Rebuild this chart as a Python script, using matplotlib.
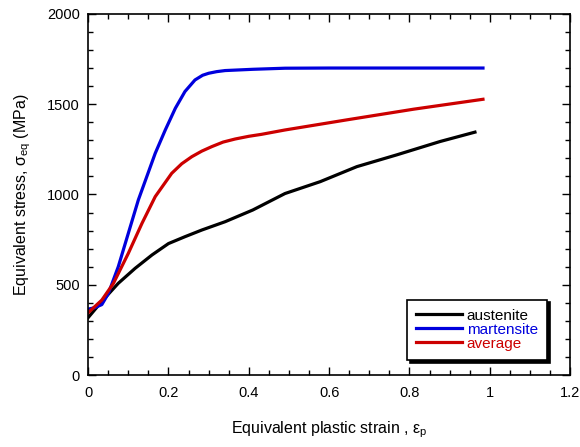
import matplotlib
matplotlib.use("Agg")
import matplotlib.pyplot as plt
from matplotlib.ticker import MultipleLocator

plt.rcParams["font.family"] = ["Liberation Sans", "DejaVu Sans"]
plt.rcParams["mathtext.fontset"] = "custom"
plt.rcParams["mathtext.rm"] = "Liberation Sans"
plt.rcParams["mathtext.it"] = "Liberation Sans"

# Austenite
aus_x = [0.0, 0.034, 0.075, 0.117, 0.159, 0.2, 0.241, 0.283, 0.341, 0.41, 0.49,
         0.578, 0.669, 0.768, 0.876, 0.963]
aus_y = [318, 408, 508, 591, 665, 728, 766, 803, 849, 914, 1005,
         1071, 1154, 1219, 1293, 1345]

# Martensite
mar_x = [0.0, 0.015, 0.034, 0.05, 0.075, 0.10, 0.125, 0.146, 0.167, 0.192, 0.217,
         0.241, 0.266, 0.285, 0.30, 0.32, 0.341, 0.41, 0.49, 0.6, 0.8, 0.983]
mar_y = [365, 372, 390, 450, 600, 785, 970, 1099, 1228, 1357, 1477,
         1570, 1634, 1660, 1671, 1680, 1686, 1693, 1699, 1700, 1700, 1700]

# Average
avg_x = [0.0, 0.034, 0.063, 0.10, 0.134, 0.167, 0.208, 0.233, 0.258, 0.283, 0.308,
         0.336, 0.366, 0.40, 0.432, 0.49, 0.644, 0.81, 0.983]
avg_y = [345, 415, 508, 674, 840, 988, 1117, 1170, 1209, 1240, 1265,
         1290, 1307, 1322, 1333, 1357, 1413, 1472, 1527]

fig = plt.figure(figsize=(5.8, 4.47), dpi=100, facecolor="white")
ax = fig.add_axes([0.152, 0.161, 0.831, 0.808])

ax.plot(aus_x, aus_y, color="black", linewidth=2.3, solid_joinstyle="round", label="austenite")
ax.plot(mar_x, mar_y, color="#0000dd", linewidth=2.3, solid_joinstyle="round", label="martensite")
ax.plot(avg_x, avg_y, color="#cc0000", linewidth=2.3, solid_joinstyle="round", label="average")

# Axes limits and ticks
ax.set_xlim(0, 1.2)
ax.set_ylim(0, 2000)
ax.xaxis.set_major_locator(MultipleLocator(0.2))
ax.xaxis.set_minor_locator(MultipleLocator(0.05))
ax.yaxis.set_major_locator(MultipleLocator(500))
ax.yaxis.set_minor_locator(MultipleLocator(100))
ax.set_xticks([0, 0.2, 0.4, 0.6, 0.8, 1, 1.2])
ax.set_xticklabels(["0", "0.2", "0.4", "0.6", "0.8", "1", "1.2"])
ax.tick_params(which="both", direction="in", top=True, right=True, labelsize=10.5)
ax.tick_params(axis="x", pad=8)
ax.tick_params(axis="y", pad=6)
ax.tick_params(which="major", length=6, width=1)
ax.tick_params(which="minor", length=3.5, width=1)
for s in ax.spines.values():
    s.set_linewidth(1.2)

ax.set_xlabel("Equivalent plastic strain , $\\varepsilon_{\\mathrm{p}}$", fontsize=11.5, labelpad=14)
ax.set_ylabel("Equivalent stress, $\\sigma_{\\mathrm{eq}}$ (MPa)", fontsize=11.5, labelpad=10)

# Legend
leg = ax.legend(loc="lower right", bbox_to_anchor=(0.952, 0.042), fontsize=11,
                frameon=True, fancybox=False, shadow={"color": "black", "alpha": 1},
                edgecolor="black", handlelength=3.0, handletextpad=0.3,
                labelspacing=0.0, borderpad=0.6, borderaxespad=0)
leg.get_frame().set_linewidth(1.2)
for text, line in zip(leg.get_texts(), leg.get_lines()):
    text.set_color(line.get_color())

plt.savefig("out.png", dpi=100)
